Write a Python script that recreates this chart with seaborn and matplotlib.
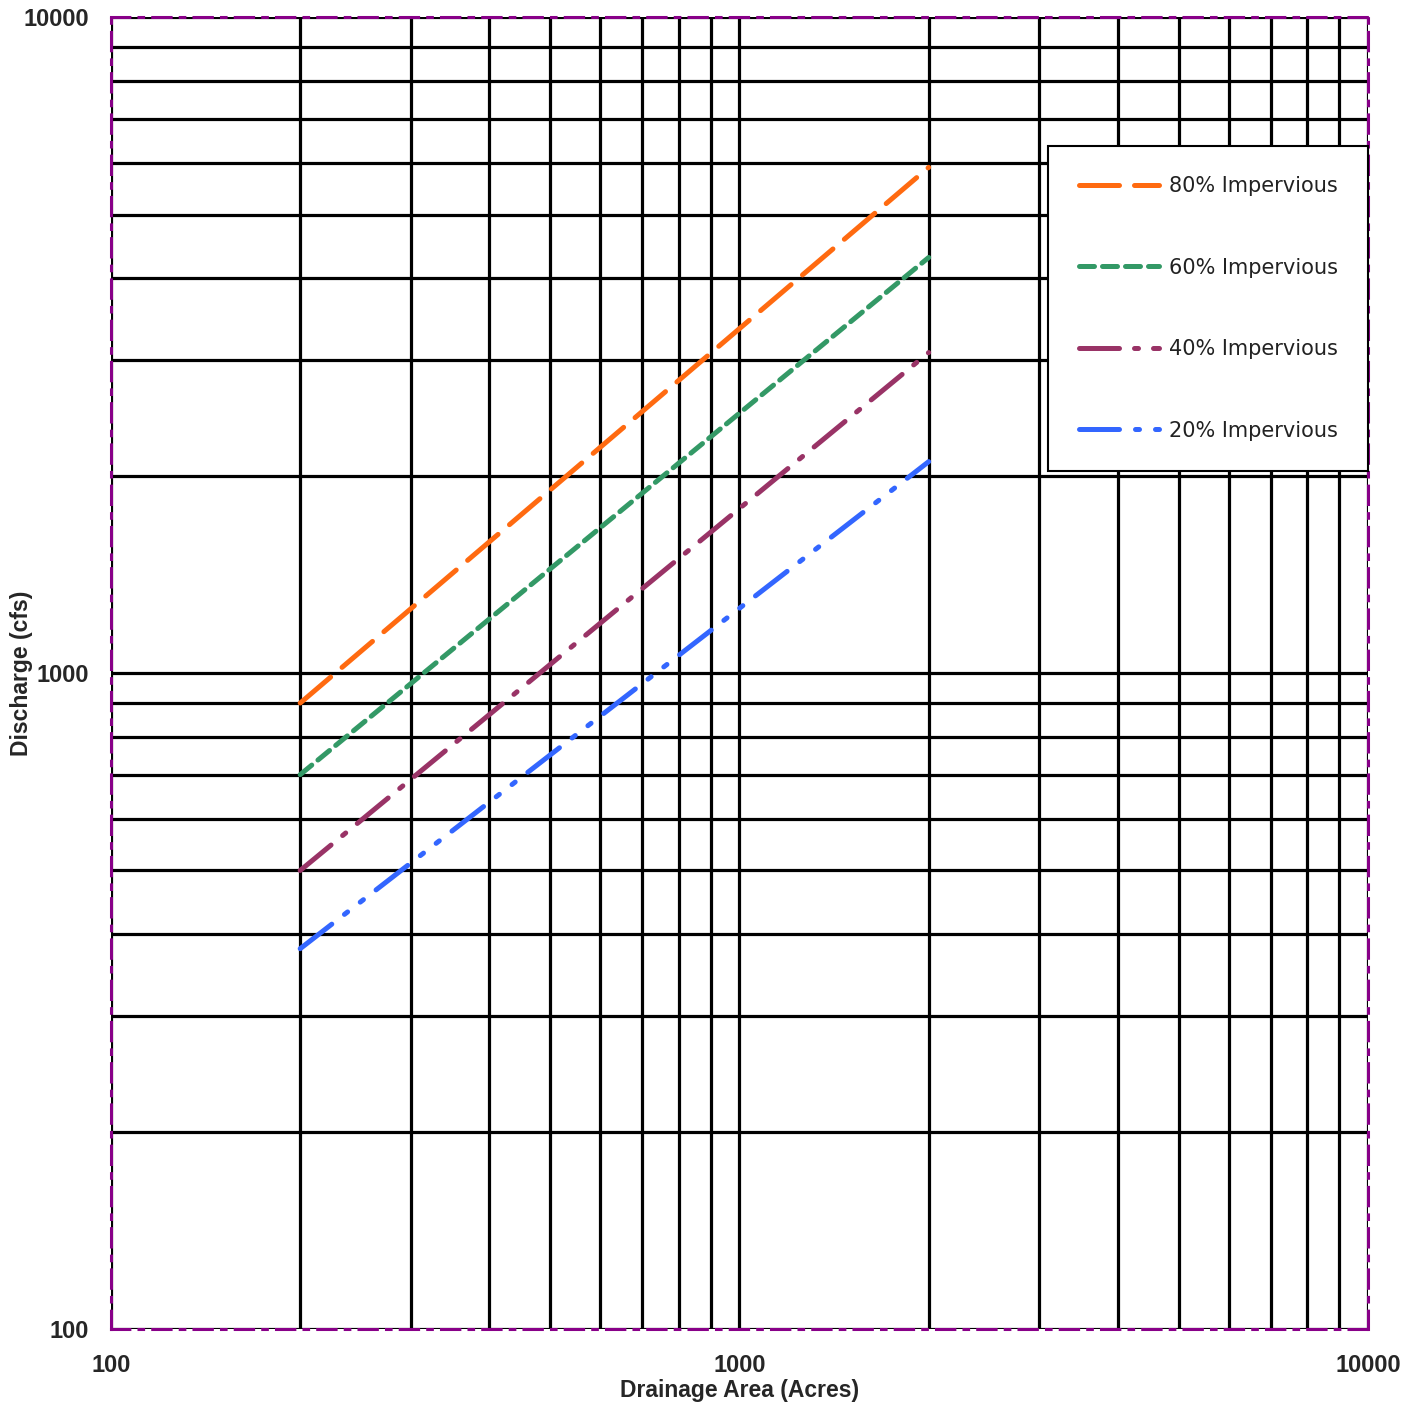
import matplotlib
matplotlib.use("Agg")
import matplotlib.pyplot as plt
import matplotlib.ticker as mticker
import seaborn as sns
import pandas as pd

# ---- data ----
area_acres = [200, 2000]
q80 = [900, 5900]
q60 = [700, 4300]
q40 = [500, 3080]
q20 = [380, 2100]
series_names = ["80% Impervious", "60% Impervious", "40% Impervious", "20% Impervious"]
series_values = [q80, q60, q40, q20]
series_colors = ["#FF6A10", "#339966", "#993366", "#3366FF"]
series_dashes = [(0, (8, 3)), (0, (3, 1.6)), (0, (8, 3, 0.8, 3)), (0, (8, 3.2, 0.8, 3.2, 0.8, 3.2))]
x_ticks = [100, 1000, 10000]
y_ticks = [100, 1000, 10000]

sns.set_style("white")
plt.rcParams["font.family"] = ["Liberation Sans", "DejaVu Sans"]

fig = plt.figure(figsize=(14.21, 14.08), dpi=100)
ax = fig.add_axes([0.0781, 0.0561, 0.8846, 0.9318])

for name, vals, col, ls in zip(series_names, series_values, series_colors, series_dashes):
    df = pd.DataFrame({"Area": area_acres, "Q": vals})
    sns.lineplot(data=df, x="Area", y="Q", ax=ax, color=col, linestyle=ls,
                 linewidth=3.6, label=name, zorder=3, dash_capstyle="round")

ax.set_xscale("log")
ax.set_yscale("log")
ax.set_xlim(100, 10000)
ax.set_ylim(100, 10000)

ax.xaxis.set_major_locator(mticker.FixedLocator(x_ticks))
ax.xaxis.set_major_formatter(mticker.FixedFormatter([str(v) for v in x_ticks]))
ax.yaxis.set_major_locator(mticker.FixedLocator(y_ticks))
ax.yaxis.set_major_formatter(mticker.FixedFormatter([str(v) for v in y_ticks]))
ax.xaxis.set_minor_locator(mticker.LogLocator(base=10, subs=range(2, 10)))
ax.yaxis.set_minor_locator(mticker.LogLocator(base=10, subs=range(2, 10)))
ax.xaxis.set_minor_formatter(mticker.NullFormatter())
ax.yaxis.set_minor_formatter(mticker.NullFormatter())

ax.grid(True, which="both", color="black", linewidth=2.3)
ax.set_axisbelow(True)
ax.tick_params(axis="both", which="major", direction="out", length=6, width=2,
               color="black", labelsize=17, pad=10)
ax.tick_params(axis="x", which="major", pad=12)
ax.tick_params(axis="both", which="minor", length=0)
for lab in ax.get_xticklabels() + ax.get_yticklabels():
    lab.set_fontweight("bold")

for side, sp in ax.spines.items():
    sp.set_visible(True)
    sp.set_color("#880088")
    sp.set_linestyle((0, (6, 3, 1.5, 3)))
    sp.set_linewidth(2.2)
    sp.set_zorder(2.6)

ax.set_xlabel("Drainage Area (Acres)", fontsize=16.5, fontweight="bold")
ax.xaxis.set_label_coords(0.5, -0.038)
ax.set_ylabel("Discharge (cfs)", fontsize=16.5, fontweight="bold")
ax.yaxis.set_label_coords(-0.062, 0.5)

handles, labels = ax.get_legend_handles_labels()
leg = ax.legend(handles, labels, loc="upper right", bbox_to_anchor=(1.0, 0.9017),
                prop={"family": "DejaVu Sans", "size": 15},
                handlelength=3.85, handletextpad=0.48,
                labelspacing=2.95, borderpad=1.45, borderaxespad=0.0,
                frameon=True, fancybox=False, framealpha=1.0, edgecolor="black",
                labelcolor="#222222")
leg.get_frame().set_linewidth(1.5)
leg.set_zorder(5)

fig.savefig("out.png", dpi=100, facecolor="white")
